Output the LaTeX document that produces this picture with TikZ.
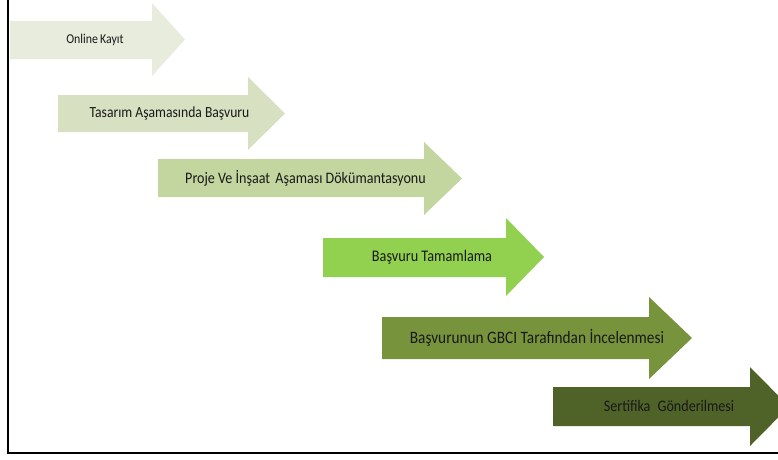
\documentclass[tikz,border=0pt]{standalone}
\usepackage{fontspec}
\setmainfont{Carlito}
\newfontfamily\condfont[FakeStretch=0.88]{Carlito}
\definecolor{cA}{RGB}{231,236,221}
\definecolor{cB}{RGB}{215,225,194}
\definecolor{cC}{RGB}{196,214,160}
\definecolor{cD}{RGB}{146,208,80}
\definecolor{cE}{RGB}{119,147,60}
\definecolor{cF}{RGB}{79,98,40}
\definecolor{txt}{RGB}{25,25,25}
% #1 colour, #2 left, #3 head start, #4 tip, #5 body top, #6 body bottom, #7 head top, #8 head bottom
\newcommand\stagearrow[8]{%
  \fill[#1] (#2,#5) -- (#3,#5) -- (#3,#7) -- (#4,{(#7+#8)/2}) -- (#3,#8) -- (#3,#6) -- (#2,#6) -- cycle;}
\tikzset{lbl/.style={text=txt,inner sep=0pt,font=\condfont}}
\begin{document}
\begin{tikzpicture}[x=1pt,y=-1pt]
\useasboundingbox (0,0) rectangle (778,459);
\clip (0,0) rectangle (778,459);
\stagearrow{cA}{10}{152}{185}{21}{59}{3}{76}
\stagearrow{cB}{58}{248}{285}{95}{132}{77}{150}
\stagearrow{cC}{158}{424}{462}{159}{197}{142}{215}
\stagearrow{cD}{323}{506}{544}{238}{277}{218}{296}
\stagearrow{cE}{382}{649}{692}{317}{359}{297}{379}
\stagearrow{cF}{553}{750}{789}{387}{426}{367}{446}
\node[lbl,font=\condfont\fontsize{13.5}{16}\selectfont] (s1) at (95,40) {Online\hspace{2pt}Kayıt};
\node[lbl,font=\condfont\fontsize{15.5}{18}\selectfont] (s2) at (169.5,113) {Tasarım Aşamasında Başvuru};
\node[lbl,font=\condfont\fontsize{16}{18}\selectfont] (s3) at (305.5,178) {Proje Ve İnşaat\hspace{2pt} Aşaması Dökümantasyonu};
\node[lbl,font=\condfont\fontsize{16.2}{18}\selectfont] (s4) at (432,257) {Başvuru Tamamlama};
\node[lbl,font=\condfont\fontsize{17.4}{19}\selectfont] (s5) at (537,338) {Başvurunun GBCI Tarafından İncelenmesi};
\node[lbl,font=\condfont\fontsize{16}{18}\selectfont] (s6) at (669,406) {Sertifika\hspace{4pt} Gönderilmesi};
\draw[line width=2.5pt,line cap=rect] (8,0) -- (8,453) -- (778,453);
\end{tikzpicture}
\end{document}
